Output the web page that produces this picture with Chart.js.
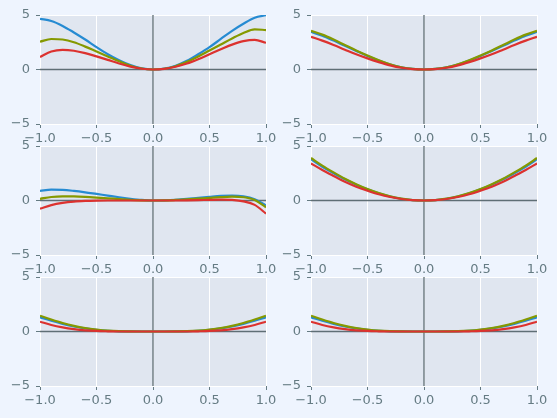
<!DOCTYPE html>
<html>
<head>
<meta charset="utf-8">
<script src="https://cdn.jsdelivr.net/npm/chart.js@4.4.1/dist/chart.umd.min.js"></script>
<style>
  html, body { margin: 0; padding: 0; background: #eef4fe; overflow: hidden; }
  #wrap { position: relative; width: 557px; height: 418px; background: #eef4fe; }
  canvas { position: absolute; }
</style>
</head>
<body>
<div id="wrap"></div>
<script>
// ---------- data ----------
const xValues = [-1, -0.9, -0.8, -0.7, -0.6, -0.5, -0.4, -0.3, -0.2, -0.1, 0, 0.1, 0.2, 0.3, 0.4, 0.5, 0.6, 0.7, 0.8, 0.9, 1];
const xTickValues = [-1, -0.5, 0, 0.5, 1];
const yTickValues = [-5, 0, 5];
const seriesNames = ['blue', 'olive', 'red'];

// top-left
const tlBlue  = [4.65, 4.45, 4.0, 3.4, 2.75, 2.05, 1.4, 0.85, 0.4, 0.1, 0, 0.08, 0.35, 0.8, 1.4, 2.05, 2.8, 3.55, 4.2, 4.75, 4.98];
const tlOlive = [2.55, 2.8, 2.75, 2.5, 2.1, 1.65, 1.2, 0.75, 0.35, 0.09, 0, 0.07, 0.3, 0.7, 1.2, 1.75, 2.3, 2.85, 3.35, 3.68, 3.62];
const tlRed   = [1.15, 1.65, 1.8, 1.72, 1.5, 1.2, 0.88, 0.55, 0.27, 0.07, 0, 0.06, 0.25, 0.55, 0.95, 1.4, 1.85, 2.28, 2.6, 2.72, 2.45];
// top-right
const trBlue  = [3.45, 3.1, 2.65, 2.17, 1.7, 1.24, 0.82, 0.46, 0.2, 0.05, 0, 0.05, 0.2, 0.46, 0.82, 1.24, 1.7, 2.17, 2.65, 3.1, 3.45];
const trOlive = [3.55, 3.2, 2.75, 2.25, 1.75, 1.28, 0.85, 0.48, 0.21, 0.05, 0, 0.05, 0.21, 0.48, 0.85, 1.28, 1.75, 2.25, 2.75, 3.2, 3.55];
const trRed   = [3.0, 2.65, 2.25, 1.82, 1.4, 1.02, 0.68, 0.38, 0.16, 0.04, 0, 0.04, 0.16, 0.38, 0.68, 1.02, 1.4, 1.82, 2.25, 2.65, 3.0];
// middle-left
const mlBlue  = [0.88, 1.0, 0.98, 0.88, 0.75, 0.6, 0.45, 0.3, 0.16, 0.05, 0, 0.02, 0.07, 0.15, 0.25, 0.34, 0.42, 0.45, 0.38, 0.12, -0.45];
const mlOlive = [0.15, 0.32, 0.38, 0.37, 0.33, 0.27, 0.2, 0.13, 0.06, 0.02, 0, 0.01, 0.05, 0.1, 0.17, 0.24, 0.31, 0.35, 0.3, 0.05, -0.62];
const mlRed   = [-0.75, -0.42, -0.22, -0.1, -0.04, -0.01, 0, 0, 0, 0, 0, 0, 0, 0.01, 0.03, 0.06, 0.08, 0.05, -0.08, -0.4, -1.2];
// middle-right
const mrBlue  = [3.78, 3.1, 2.5, 1.94, 1.45, 1.02, 0.66, 0.37, 0.16, 0.04, 0, 0.04, 0.16, 0.37, 0.66, 1.02, 1.45, 1.94, 2.5, 3.1, 3.78];
const mrOlive = [3.9, 3.2, 2.58, 2.0, 1.5, 1.05, 0.68, 0.38, 0.17, 0.04, 0, 0.04, 0.17, 0.38, 0.68, 1.05, 1.5, 2.0, 2.58, 3.2, 3.9];
const mrRed   = [3.4, 2.8, 2.25, 1.72, 1.27, 0.9, 0.57, 0.32, 0.14, 0.03, 0, 0.03, 0.14, 0.32, 0.57, 0.9, 1.27, 1.72, 2.25, 2.8, 3.4];
// bottom-left
const blBlue  = [1.3, 0.98, 0.7, 0.46, 0.28, 0.15, 0.07, 0.02, 0.005, 0, 0, 0, 0.005, 0.02, 0.07, 0.15, 0.28, 0.46, 0.7, 0.98, 1.3];
const blOlive = [1.45, 1.1, 0.78, 0.52, 0.32, 0.18, 0.08, 0.03, 0.01, 0, 0, 0, 0.01, 0.03, 0.08, 0.18, 0.32, 0.52, 0.78, 1.1, 1.45];
const blRed   = [0.9, 0.6, 0.38, 0.22, 0.11, 0.05, 0.02, 0, 0, 0, 0, 0, 0, 0, 0.02, 0.05, 0.11, 0.22, 0.38, 0.6, 0.9];
// bottom-right
const brBlue  = [1.3, 0.98, 0.7, 0.46, 0.28, 0.15, 0.07, 0.02, 0.005, 0, 0, 0, 0.005, 0.02, 0.07, 0.15, 0.28, 0.46, 0.7, 0.98, 1.3];
const brOlive = [1.45, 1.1, 0.78, 0.52, 0.32, 0.18, 0.08, 0.03, 0.01, 0, 0, 0, 0.01, 0.03, 0.08, 0.18, 0.32, 0.52, 0.78, 1.1, 1.45];
const brRed   = [0.9, 0.6, 0.38, 0.22, 0.11, 0.05, 0.02, 0, 0, 0, 0, 0, 0, 0, 0.02, 0.05, 0.11, 0.22, 0.38, 0.6, 0.9];

// ---------- style / layout ----------
const COLORS = { blue: '#268bd2', olive: '#859900', red: '#dc322f' };
const TEXT = '#657b83';
const PLOT_BG = '#e0e6f0';
const AXLINE = '#5f6e75';
const PW = 226, PH = 109;
const COLS = [40, 311];
const ROWS = [15, 145.8, 276.6];
const PAD_L = 40, PAD_T = 14, PAD_R = 18, PAD_B = 26;

const panels = [
  { c: 0, r: 0, s: [tlBlue, tlOlive, tlRed] },
  { c: 1, r: 0, s: [trBlue, trOlive, trRed] },
  { c: 0, r: 1, s: [mlBlue, mlOlive, mlRed] },
  { c: 1, r: 1, s: [mrBlue, mrOlive, mrRed] },
  { c: 0, r: 2, s: [blBlue, blOlive, blRed] },
  { c: 1, r: 2, s: [brBlue, brOlive, brRed] },
];

const fmt = (v, d) => {
  let s = Math.abs(v) < 1e-9 ? (0).toFixed(d) : v.toFixed(d);
  return s.replace('-', '\u2212');
};

const bgPlugin = {
  id: 'bg',
  beforeDraw(chart) {
    const a = chart.chartArea, ctx = chart.ctx;
    ctx.save();
    ctx.fillStyle = PLOT_BG;
    ctx.fillRect(a.left, a.top, a.right - a.left, a.bottom - a.top);
    ctx.restore();
  }
};
const axLinesPlugin = {
  id: 'axlines',
  beforeDatasetsDraw(chart) {
    const a = chart.chartArea, ctx = chart.ctx;
    const x0 = chart.scales.x.getPixelForValue(0);
    const y0 = chart.scales.y.getPixelForValue(0);
    ctx.save();
    ctx.strokeStyle = AXLINE;
    ctx.lineWidth = 1.3;
    ctx.beginPath();
    ctx.moveTo(a.left, y0); ctx.lineTo(a.right, y0);
    ctx.moveTo(x0, a.top); ctx.lineTo(x0, a.bottom);
    ctx.stroke();
    ctx.restore();
  }
};

const wrap = document.getElementById('wrap');
panels.forEach(p => {
  const cv = document.createElement('canvas');
  const w = PW + PAD_L + PAD_R, h = PH + PAD_T + PAD_B;
  cv.width = w; cv.height = h;
  cv.style.width = w + 'px'; cv.style.height = h + 'px';
  cv.style.left = (COLS[p.c] - PAD_L) + 'px';
  cv.style.top = (ROWS[p.r] - PAD_T) + 'px';
  wrap.appendChild(cv);
  const datasets = p.s.map((vals, i) => ({
    label: seriesNames[i],
    data: xValues.map((x, k) => ({ x: x, y: vals[k] })),
    borderColor: COLORS[seriesNames[i]],
    borderWidth: 2.2,
    pointRadius: 0,
    cubicInterpolationMode: 'monotone',
    fill: false,
    order: 3 - i
  }));
  new Chart(cv, {
    type: 'line',
    data: { datasets },
    options: {
      responsive: false,
      animation: false,
      devicePixelRatio: 1,
      layout: { padding: { left: 0, top: PAD_T, right: PAD_R, bottom: 0 } },
      plugins: { legend: { display: false }, tooltip: { enabled: false } },
      scales: {
        x: {
          type: 'linear', min: -1, max: 1,
          afterBuildTicks: s => { s.ticks = xTickValues.map(v => ({ value: v })); },
          afterFit: s => { s.height = PAD_B; },
          ticks: { color: TEXT, font: { family: 'DejaVu Sans', size: 13 }, padding: 3, maxRotation: 0, autoSkip: false,
                   callback: v => fmt(v, 1) },
          grid: { color: '#ffffff', lineWidth: 1, drawTicks: true, tickLength: 4, tickColor: TEXT },
          border: { display: false }
        },
        y: {
          type: 'linear', min: -5, max: 5,
          afterBuildTicks: s => { s.ticks = yTickValues.map(v => ({ value: v })); },
          afterFit: s => { s.width = PAD_L; },
          ticks: { color: TEXT, font: { family: 'DejaVu Sans', size: 13 }, padding: 6, autoSkip: false,
                   callback: v => fmt(v, 0) },
          grid: { color: '#ffffff', lineWidth: 1, drawTicks: true, tickLength: 4, tickColor: TEXT },
          border: { display: false }
        }
      }
    },
    plugins: [bgPlugin, axLinesPlugin]
  });
});
</script>
</body>
</html>
